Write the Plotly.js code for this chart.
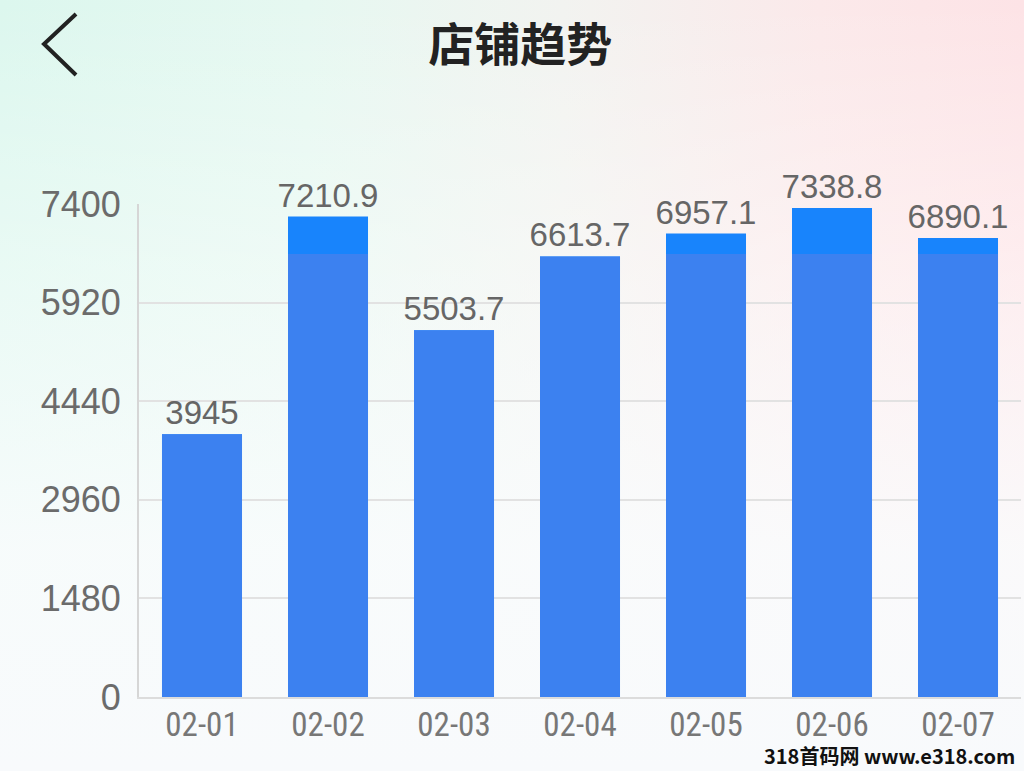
<!DOCTYPE html>
<html>
<head>
<meta charset="utf-8">
<script src="https://cdn.plot.ly/plotly-3.0.1.min.js"></script>
<style>
html,body{margin:0;padding:0;width:1024px;height:771px;overflow:hidden;}
body{background:
 linear-gradient(to bottom, rgba(255,255,255,0) 0px, rgba(255,255,255,0.35) 250px, rgba(250,252,253,0.9) 550px, #f8fafc 771px),
 linear-gradient(to right, #dcf7ee 0%, #e6f8f1 30%, #f2f3f0 55%, #fbe9ea 80%, #fde3e6 100%);}
#chart{width:1024px;height:771px;}
</style>
</head>
<body>
<div id="chart"></div>
<script>
const categories = ["02-01","02-02","02-03","02-04","02-05","02-06","02-07"];
const values = [3945, 7210.9, 5503.7, 6613.7, 6957.1, 7338.8, 6890.1];
const valueLabels = ["3945","7210.9","5503.7","6613.7","6957.1","7338.8","6890.1"];
const yTicks = [0, 1480, 2960, 4440, 5920, 7400];
const bandLevel = 6650;

const topTrace = {
  type: "bar", x: categories, y: values,
  marker: {color: "#1884fc"},
  text: valueLabels, textposition: "outside", cliponaxis: false, constraintext: "none",
  textfont: {family: "Liberation Sans, Arial, sans-serif", size: 33, color: "#666666"},
  hoverinfo: "x+y"
};
const lowerTrace = {
  type: "bar", x: categories, y: values.map(v => Math.min(v, bandLevel)),
  marker: {color: "#3c81f0"}, hoverinfo: "skip", textposition: "none"
};

const layout = {
  width: 1024, height: 771,
  margin: {l: 139, r: 3, t: 204, b: 74},
  paper_bgcolor: "rgba(0,0,0,0)", plot_bgcolor: "rgba(0,0,0,0)",
  barmode: "overlay", bargap: 0.365, showlegend: false,
  xaxis: {
    type: "category", showgrid: false, ticks: "", zeroline: false,
    showline: true, linecolor: "#dcdcdc", linewidth: 2,
    ticklabelstandoff: -3,
    tickfont: {family: "Roboto Condensed, DejaVu Sans Condensed, Roboto, sans-serif", size: 33, color: "#777777"}
  },
  yaxis: {
    range: [0, 7400], tickvals: yTicks, ticktext: yTicks.map(String),
    showgrid: true, gridcolor: "#e2e2e2", gridwidth: 2,
    zeroline: false, showline: true, linecolor: "#d6d6d6", linewidth: 2,
    ticks: "", ticklabelstandoff: 9,
    tickfont: {family: "Liberation Sans, Arial, sans-serif", size: 36, color: "#6b6b6b"}
  },
  title: {
    text: "<b>店铺趋势</b>", x: 0.508, xanchor: "center", y: 0.942, yanchor: "middle",
    font: {family: "Noto Sans CJK SC, sans-serif", size: 46, color: "#222222"}
  },
  shapes: [{
    type: "path", xref: "paper", yref: "paper", layer: "above",
    path: "",
    line: {color: "#222222", width: 4}
  }],
  annotations: [{
    text: "<b>318首码网 www.e318.com</b>", xref: "paper", yref: "paper",
    x: 0.996, xanchor: "right", y: -0.1185, yanchor: "middle", showarrow: false,
    font: {family: "Noto Sans CJK SC, sans-serif", size: 20, color: "#111111"}
  }]
};
(function(){
  const pw = 1024 - 139 - 3, ph = 771 - 204 - 74;
  const pts = [[76,14],[44,44],[76,75]].map(([px,py]) => [(px-139)/pw, (697-py)/ph]);
  layout.shapes[0].path = "M " + pts.map(p => p[0].toFixed(4)+","+p[1].toFixed(4)).join(" L ");
})();

Plotly.newPlot("chart", [topTrace, lowerTrace], layout, {displayModeBar: false, staticPlot: true});
</script>
</body>
</html>
